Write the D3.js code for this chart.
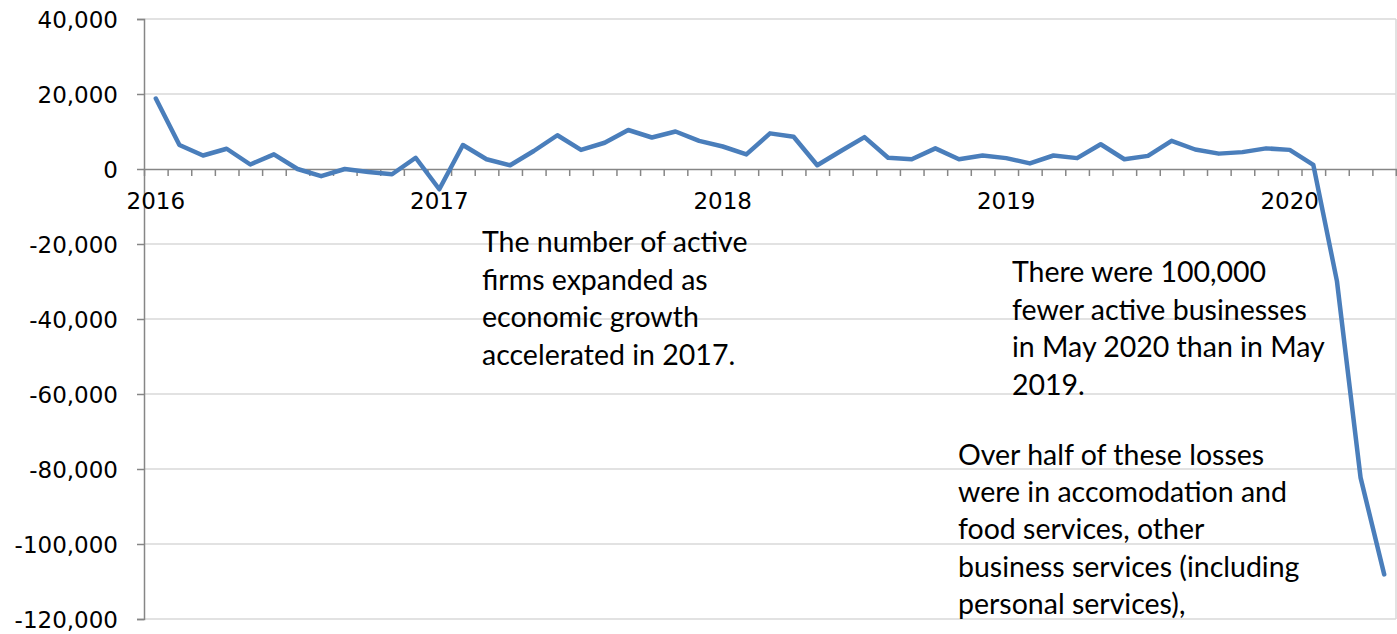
<!DOCTYPE html>
<html>
<head>
<meta charset="utf-8">
<script src="https://cdn.jsdelivr.net/npm/d3@7"></script>
<style>
  html, body { margin: 0; padding: 0; background: #fff; overflow: hidden; }
  svg { display: block; }
  .axis-label { font-family: "DejaVu Sans", Verdana, sans-serif; font-size: 23px; fill: #000; }
  .note { font-family: Lato, "Open Sans", sans-serif; font-size: 28.5px; fill: #000; }
</style>
</head>
<body>
<svg id="chart" width="1397" height="634"></svg>
<script>
// Monthly change in the number of active businesses, Jan 2016 – May 2020
const months = [
  "2016-01","2016-02","2016-03","2016-04","2016-05","2016-06","2016-07","2016-08","2016-09","2016-10","2016-11","2016-12",
  "2017-01","2017-02","2017-03","2017-04","2017-05","2017-06","2017-07","2017-08","2017-09","2017-10","2017-11","2017-12",
  "2018-01","2018-02","2018-03","2018-04","2018-05","2018-06","2018-07","2018-08","2018-09","2018-10","2018-11","2018-12",
  "2019-01","2019-02","2019-03","2019-04","2019-05","2019-06","2019-07","2019-08","2019-09","2019-10","2019-11","2019-12",
  "2020-01","2020-02","2020-03","2020-04","2020-05"
];

const netChange = [
  18800, 6400, 3600, 5400, 1200, 3900, 0, -1900, 0, -800, -1400, 3000,
  -5400, 6400, 2600, 1000, 4800, 9000, 5100, 7000, 10400, 8400, 10000, 7500,
  6000, 3900, 9500, 8600, 1000, 4800, 8500, 3000, 2600, 5500, 2600, 3600,
  2900, 1500, 3600, 2900, 6600, 2600, 3500, 7500, 5200, 4100, 4500, 5500,
  5100, 1100, -29900, -82300, -108100
];

const yTicks = [40000, 20000, 0, -20000, -40000, -60000, -80000, -100000, -120000];

const yearLabels = ["2016", "2017", "2018", "2019", "2020"];
const yearMonths = ["2016-01", "2017-01", "2018-01", "2019-01", "2020-01"];

const noteGrowth = [
  "The number of active",
  "firms expanded as",
  "economic growth",
  "accelerated in 2017."
];
const noteDecline = [
  "There were 100,000",
  "fewer active businesses",
  "in May 2020 than in May",
  "2019."
];
const noteSectors = [
  "Over half of these losses",
  "were in accomodation and",
  "food services, other",
  "business services (including",
  "personal services),"
];

const svg = d3.select("#chart");
const plot = { left: 144, right: 1396, top: 19, bottom: 619 };

const x = d3.scaleBand().domain(months).range([plot.left, plot.right]).padding(0);
const xEdge = d3.scaleLinear().domain([0, months.length]).range([plot.left, plot.right]);
const y = d3.scaleLinear().domain([-120000, 40000]).range([plot.bottom, plot.top]);

const fmt = d3.formatLocale({ decimal: ".", thousands: ",", grouping: [3], currency: ["", ""], minus: "-" }).format(",");

// horizontal gridlines
svg.append("g")
  .selectAll("line")
  .data(yTicks.filter(d => d !== 0))
  .join("line")
  .attr("x1", plot.left).attr("x2", plot.right)
  .attr("y1", d => y(d)).attr("y2", d => y(d))
  .attr("stroke", "#d9d9d9").attr("stroke-width", 1.5);

// right edge of the plot frame
svg.append("line")
  .attr("x1", plot.right).attr("x2", plot.right)
  .attr("y1", plot.top).attr("y2", plot.bottom)
  .attr("stroke", "#d9d9d9").attr("stroke-width", 1.5);

// annotations
function drawNote(lines, left, firstBaseline, step) {
  const t = svg.append("text").attr("class", "note").attr("x", left).attr("y", firstBaseline);
  t.selectAll("tspan")
    .data(lines)
    .join("tspan")
    .attr("x", left)
    .attr("dy", (d, i) => i === 0 ? 0 : step)
    .text(d => d);
}
drawNote(noteGrowth, 482, 252, 37.7);
drawNote(noteDecline, 1012, 282, 37.5);
drawNote(noteSectors, 958, 465, 37.2);

// y axis
const yAxis = svg.append("g")
  .attr("transform", `translate(${plot.left},0)`)
  .call(d3.axisLeft(y).tickValues(yTicks).tickSize(7).tickPadding(19).tickFormat(fmt));
yAxis.select(".domain").attr("stroke", "#868686").attr("stroke-width", 1.5);
yAxis.selectAll(".tick line").attr("stroke", "#868686").attr("stroke-width", 1.5);
yAxis.selectAll(".tick text").attr("class", "axis-label").attr("dy", "0.36em");
yAxis.attr("font-size", null).attr("font-family", null);

// x axis along zero, ticks between months
const xAxis = svg.append("g")
  .attr("transform", `translate(0,${y(0)})`)
  .call(d3.axisBottom(xEdge).tickValues(d3.range(1, months.length + 1)).tickSize(7).tickFormat(""));
xAxis.select(".domain").attr("stroke", "#868686").attr("stroke-width", 1.5);
xAxis.selectAll(".tick line").attr("stroke", "#868686").attr("stroke-width", 1.5);

// year labels centred on each January
svg.append("g")
  .selectAll("text")
  .data(yearLabels)
  .join("text")
  .attr("class", "axis-label")
  .attr("text-anchor", "middle")
  .attr("x", (d, i) => x(yearMonths[i]) + x.bandwidth() / 2)
  .attr("y", y(0) + 40)
  .text(d => d);

// series line
const line = d3.line()
  .x((d, i) => x(months[i]) + x.bandwidth() / 2)
  .y(d => y(d));

svg.append("path")
  .datum(netChange)
  .attr("fill", "none")
  .attr("stroke", "#4a7ebb")
  .attr("stroke-width", 4.5)
  .attr("stroke-linejoin", "round")
  .attr("stroke-linecap", "round")
  .attr("d", line);
</script>
</body>
</html>
